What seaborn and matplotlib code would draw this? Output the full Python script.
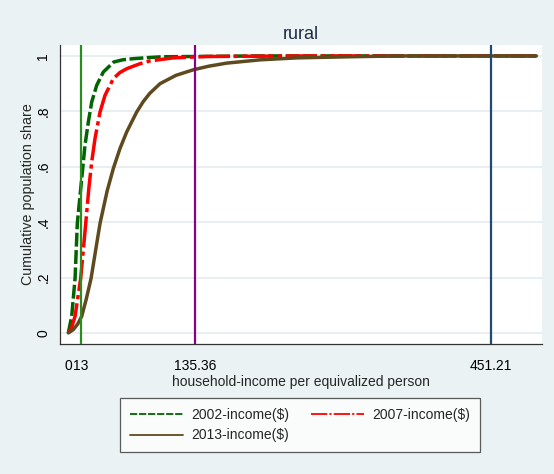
import matplotlib
matplotlib.use("Agg")
import matplotlib.pyplot as plt
from matplotlib.lines import Line2D
import seaborn as sns
import pandas as pd

# Cumulative population share by household income per equivalized person (rural)
x_2002 = [0, 3.6, 7.2, 9.6, 13.5, 17.8, 21.4, 25, 30.3, 37.4, 48.4, 58, 69, 85, 100, 200, 500]
y_2002 = [0, 0.06, 0.197, 0.396, 0.53, 0.678, 0.762, 0.834, 0.894, 0.942, 0.978, 0.986, 0.99,
          0.994, 0.997, 1.0, 1.0]

x_2007 = [0, 3, 7.2, 13.2, 18.6, 22, 25, 28.5, 33.9, 39.2, 48.1, 55, 62.4, 76.6, 87.3, 112, 148,
          250, 500]
y_2007 = [0, 0.015, 0.06, 0.197, 0.396, 0.525, 0.618, 0.702, 0.798, 0.858, 0.918, 0.94, 0.954,
          0.972, 0.982, 0.993, 0.998, 1.0, 1.0]

x_2013 = [0, 5.3, 10, 14.3, 19, 24.3, 29, 33.9, 41.5, 48.1, 55.2, 62.4, 73.1, 80, 87, 98, 115,
          133.5, 150, 169, 205, 244, 300, 350, 500]
y_2013 = [0, 0.012, 0.032, 0.06, 0.12, 0.197, 0.295, 0.396, 0.513, 0.594, 0.666, 0.726, 0.798,
          0.835, 0.865, 0.9, 0.93, 0.95, 0.963, 0.974, 0.986, 0.993, 0.997, 1.0, 1.0]

series_labels = ["2002-income($)", "2007-income($)", "2013-income($)"]

# Reference income levels marked with vertical lines
ref_lines = [13, 135.36, 451.21]
ref_colors = ["#2a8c22", "#880088", "#1f4a72"]

x_ticks = [0, 13, 135.36, 451.21]
x_tick_labels = ["0", "13", "135.36", "451.21"]
y_ticks = [0, 0.2, 0.4, 0.6, 0.8, 1.0]
y_tick_labels = ["0", ".2", ".4", ".6", ".8", "1"]

bg = "#eaf2f3"
sns.set_style("white")
plt.rcParams["font.family"] = ["Liberation Sans", "DejaVu Sans"]

fig = plt.figure(figsize=(5.54, 4.74), dpi=100, facecolor=bg)
ax = fig.add_axes([60 / 554, 1 - 344 / 474, 482 / 554, 299 / 474])
ax.set_facecolor("white")

for yt in y_ticks:
    ax.axhline(yt, color="#e6eef1", lw=1.3, zorder=0)

colors = ["#006400", "#ff0000", "#5e4a1e"]
styles = [(0, (4, 1)), (0, (9, 1.2, 1.2, 1.2)), "-"]
data = [(x_2002, y_2002), (x_2007, y_2007), (x_2013, y_2013)]
handles = []
for (xs, ys), lab, c, ls in zip(data, series_labels, colors, styles):
    df = pd.DataFrame({"income": xs, "share": ys})
    sns.lineplot(data=df, x="income", y="share", ax=ax, color=c, lw=2.5,
                 linestyle=ls, zorder=3, legend=False)
    handles.append(Line2D([0], [0], color=c, lw=1.3, linestyle=ls))

for xv, c in zip(ref_lines, ref_colors):
    ax.axvline(xv, color=c, lw=1.6, zorder=4)

ax.set_xlim(-8.9, 506)
ax.set_ylim(-0.04, 1.0395)
ax.set_xticks(x_ticks)
ax.set_xticklabels(x_tick_labels, fontsize=10)
ax.set_yticks(y_ticks)
ax.set_yticklabels(y_tick_labels, fontsize=10, rotation=90, va="center")
ax.tick_params(axis="both", direction="out", length=4, width=0.8, color="#333333",
               labelcolor="black")
ax.tick_params(axis="x", pad=7)
ax.tick_params(axis="y", pad=3)

for side in ["top", "right"]:
    ax.spines[side].set_visible(False)
for side in ["left", "bottom"]:
    ax.spines[side].set_color("#333333")
    ax.spines[side].set_linewidth(0.9)

ax.set_xlabel("household-income per equivalized person", fontsize=10, labelpad=1)
ax.set_ylabel("Cumulative population share", fontsize=10.3, labelpad=1)
ax.set_title("rural", fontsize=13, color="#1e2c44", pad=4)

order = [0, 2, 1]
leg = fig.legend([handles[i] for i in order], [series_labels[i] for i in order],
                 ncol=2, loc="center", bbox_to_anchor=(300 / 554, 1 - 425 / 474),
                 frameon=True, fancybox=False, fontsize=10, handlelength=3.8,
                 handletextpad=0.6, columnspacing=1.6, borderpad=0.7,
                 labelspacing=0.5)
leg.get_frame().set_edgecolor("#333333")
leg.get_frame().set_linewidth(0.9)
leg.get_frame().set_facecolor("white")

fig.savefig("out.png", dpi=100, facecolor=bg)
